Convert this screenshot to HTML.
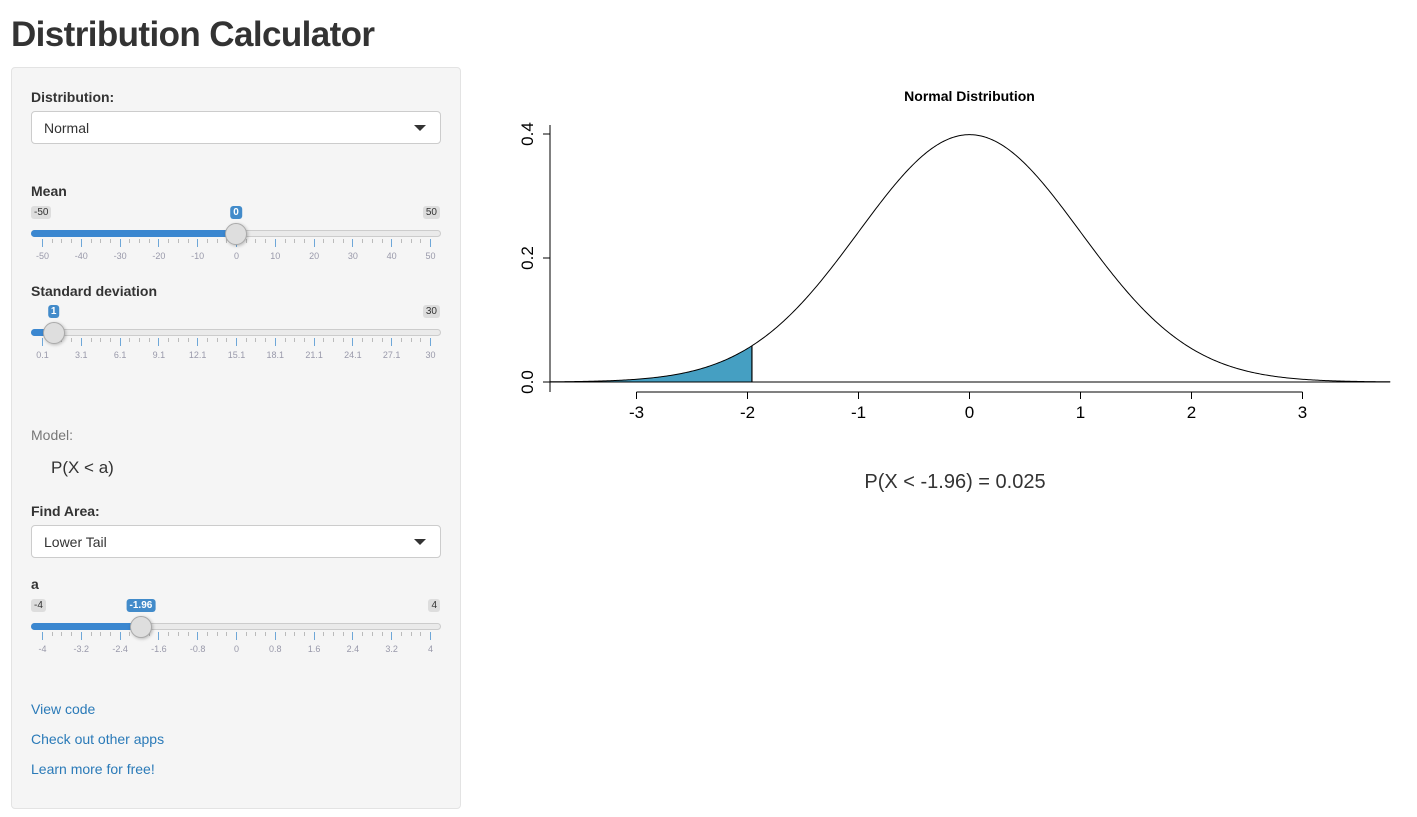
<!DOCTYPE html>
<html><head><meta charset="utf-8">
<style>
body{margin:0;width:1417px;height:817px;background:#fff;font-family:"Liberation Sans",Arial,sans-serif;color:#333;position:relative;overflow:hidden}
.abs{position:absolute}
h1{position:absolute;left:11px;top:15px;margin:0;font-size:35px;font-weight:bold;color:#333;letter-spacing:-0.6px}
#panel{position:absolute;left:11px;top:67px;width:448px;height:740px;background:#f5f5f5;border:1px solid #e3e3e3;border-radius:4px}
.lbl{position:absolute;left:31px;font-size:14px;font-weight:bold;color:#333}
.sel{position:absolute;left:31px;width:410px;height:33px;background:#fff;border:1px solid #ccc;border-radius:4px;font-size:14px;box-sizing:border-box;padding:8px 12px}
.caret{position:absolute;right:14px;top:13px;width:0;height:0;border-left:6px solid transparent;border-right:6px solid transparent;border-top:6px solid #333}
.tag{position:absolute;font-size:10px;padding:1px 3px;border-radius:3px;background:#ddd;color:#333;line-height:11px}
.tag.cur{background:#428bca;color:#fff;font-weight:bold}
.track{position:absolute;left:31px;width:410px;height:7px;background:#eaeaea;border:1px solid #ccc;border-radius:5px;box-sizing:border-box}
.bar{position:absolute;left:31px;height:7px;background:#3b87d0;border-radius:5px 0 0 5px}
.handle{position:absolute;width:22px;height:22px;border-radius:50%;background:#dedede;border:1px solid #aaa;box-sizing:border-box;box-shadow:1px 1px 3px rgba(0,0,0,.25)}
.tick{position:absolute;width:1px;background:#6ea7d8}
.tl{position:absolute;font-size:9px;color:#99a;transform:translateX(-50%)}
a{color:#2a7ab8;text-decoration:none;font-size:14px}
</style></head><body>
<h1>Distribution Calculator</h1>
<div id="panel"></div>
<div class="lbl" style="top:89px">Distribution:</div>
<div class="sel" style="top:111px">Normal<div class="caret"></div></div>
<div class="lbl" style="top:183px">Mean</div>
<div class="lbl" style="top:283px">Standard deviation</div>
<div class="abs" style="left:31px;top:427px;font-size:14px;color:#777">Model:</div>
<div class="abs" style="left:51px;top:458px;font-size:17px;color:#333">P(X &lt; a)</div>
<div class="lbl" style="top:503px">Find Area:</div>
<div class="sel" style="top:525px">Lower Tail<div class="caret"></div></div>
<div class="lbl" style="top:576px">a</div>
<a class="abs" style="left:31px;top:701px" href="#">View code</a>
<a class="abs" style="left:31px;top:731px" href="#">Check out other apps</a>
<a class="abs" style="left:31px;top:761px" href="#">Learn more for free!</a>
<div id="sliders"></div>

<svg class="abs" style="left:0;top:0" width="1417" height="817" id="chart"></svg>

<script>
// chart data
const meanVal = 0;
const sdVal = 1;
const aVal = -1.96;
const probVal = 0.025;
const xTicks = [-3,-2,-1,0,1,2,3];
const yTicks = [0.0,0.2,0.4];
const yTickLabels = ["0.0","0.2","0.4"];
// slider data
const meanLabels = ["-50","-40","-30","-20","-10","0","10","20","30","40","50"];
const sdLabels = ["0.1","3.1","6.1","9.1","12.1","15.1","18.1","21.1","24.1","27.1","30"];
const aLabels = ["-4","-3.2","-2.4","-1.6","-0.8","0","0.8","1.6","2.4","3.2","4"];

const NS='http://www.w3.org/2000/svg';
const svg=document.getElementById('chart');
function el(t,a){const e=document.createElementNS(NS,t);for(const k in a)e.setAttribute(k,a[k]);svg.appendChild(e);return e;}
const X=v=>969.5+(v-meanVal)/sdVal*111;
const Y=v=>382-v*620;
const pdf=x=>Math.exp(-0.5*((x-meanVal)/sdVal)**2)/(sdVal*Math.sqrt(2*Math.PI));
const x0=meanVal-3.78*sdVal,x1=meanVal+3.79*sdVal;
let d='M'+X(x0)+','+Y(0);
for(let i=0;i<=200;i++){const x=x0+(aVal-x0)*i/200;d+=' L'+X(x).toFixed(2)+','+Y(pdf(x)).toFixed(2);}
d+=' L'+X(aVal)+','+Y(0)+' Z';
let p=el('path',{d:d,fill:'#459fc2',stroke:'none'});

let l=el('line',{x1:X(aVal),x2:X(aVal),y1:Y(0),y2:Y(pdf(aVal)),stroke:'#000','stroke-width':1.2});

let c='';
for(let i=0;i<=600;i++){const x=x0+(x1-x0)*i/600;c+=(i?' L':'M')+X(x).toFixed(2)+','+Y(pdf(x)).toFixed(2);}
let cv=el('path',{d:c,fill:'none',stroke:'#000','stroke-width':1});

let bl=el('line',{x1:X(x0),x2:X(x1),y1:Y(0),y2:Y(0),stroke:'#000','stroke-width':1});

let ya=el('line',{x1:550,x2:550,y1:Y(0.4)-9,y2:Y(0)+10,stroke:'#000'});

yTicks.forEach((v,i)=>{el('line',{x1:543,x2:550,y1:Y(v),y2:Y(v),stroke:'#000'});
 const t=el('text',{x:0,y:0,transform:'translate(533,'+Y(v)+') rotate(-90)','text-anchor':'middle','font-size':17,fill:'#000','font-family':'Liberation Sans'});
 t.textContent=yTickLabels[i];
 });
let xa=el('line',{x1:X(xTicks[0]),x2:X(xTicks[xTicks.length-1]),y1:392,y2:392,stroke:'#000'});

xTicks.forEach(v=>{el('line',{x1:X(v),x2:X(v),y1:392,y2:399,stroke:'#000'});
 const t=el('text',{x:X(v),y:418,'text-anchor':'middle','font-size':17,fill:'#000','font-family':'Liberation Sans'});
 t.textContent=v;
 });
let ti=el('text',{x:969.5,y:101,'text-anchor':'middle','font-size':14,'font-weight':'bold',fill:'#000','font-family':'Liberation Sans'});
ti.textContent='Normal Distribution';

let pr=el('text',{x:955,y:488,'text-anchor':'middle','font-size':20,fill:'#333','font-family':'Liberation Sans'});
pr.textContent='P(X < '+aVal+') = '+probVal;


const host=document.getElementById('sliders');
function slider(name,top,labels,min,max,val,valTxt,hideMin){
 const L=42,W=388,pos=L+(val-min)/(max-min)*W;
 const mk=(cls,style,txt)=>{const e=document.createElement('div');e.className=cls;e.style.cssText=style;if(txt!==undefined)e.textContent=txt;host.appendChild(e);return e;};
 let e;
 if(!hideMin){e=mk('tag','left:31px;top:'+(top-28)+'px',labels[0]);
 }
 e=mk('tag','right:'+(1417-440)+'px;top:'+(top-28)+'px',labels[labels.length-1]);
 
 e=mk('track','top:'+(top-4)+'px');
 
 e=mk('bar','top:'+(top-4)+'px;width:'+(pos-31)+'px');
 
 for(let i=0;i<labels.length;i++){const x=L+W*i/(labels.length-1);
  mk('tick','left:'+x+'px;top:'+(top+5)+'px;height:8px');
  if(i<labels.length-1){for(let k=1;k<=3;k++)mk('tick','left:'+(x+W/(labels.length-1)*k/4)+'px;top:'+(top+5)+'px;height:4px;background:#bbb');}
  e=mk('tl','left:'+(x+0.5)+'px;top:'+(top+17)+'px',labels[i]);
  }
 e=mk('tag cur','left:'+pos+'px;top:'+(top-28)+'px;transform:translateX(-50%)',valTxt);
 
 e=mk('handle','left:'+(pos-11)+'px;top:'+(top-11)+'px');
 
}
slider('mean',234,meanLabels,-50,50,meanVal,String(meanVal),false);
slider('sd',333,sdLabels,0.1,30,sdVal,String(sdVal),true);
slider('a',627,aLabels,-4,4,aVal,String(aVal),false);
</script>
</body></html>
